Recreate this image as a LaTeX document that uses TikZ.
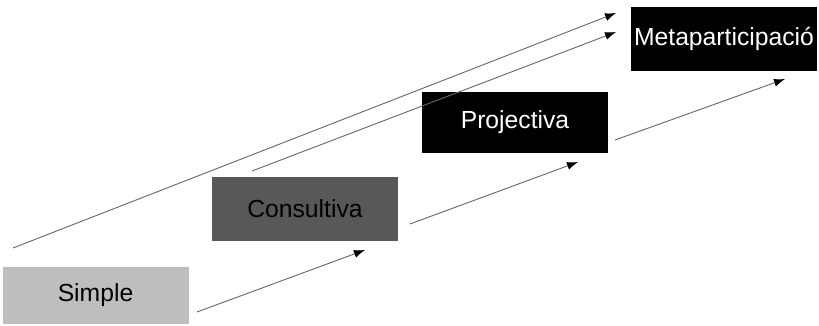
\documentclass[tikz,border=0pt]{standalone}
\usepackage{fontspec}
\setmainfont{Liberation Sans}
\usetikzlibrary{arrows.meta}
\definecolor{lightbox}{RGB}{190,190,190}
\definecolor{darkbox}{RGB}{88,88,88}
\begin{document}
\begin{tikzpicture}[x=1pt,y=-1pt,
    level/.style={minimum width=186pt,minimum height=62pt,inner sep=0pt,font=\fontsize{24.7}{28}\selectfont},
    stair/.style={draw=black!60,line width=0.9pt,-{Latex[length=11pt,width=8pt,color=black]}}]
    \useasboundingbox (0,0) rectangle (819,326);

    % the four levels
    \node[level,fill=lightbox,minimum height=57pt] (simple) at (95.5,295.5) {Simple};
    \node[level,fill=darkbox,minimum height=64pt] (consultiva) at (305,209) {Consultiva};
    \node[level,fill=black,text=white,minimum height=61pt] (projectiva) at (515,122.5) {Projectiva};
    \node[level,fill=black,text=white,minimum height=64pt] (meta) at (724,39) {Metaparticipació};

    % arrow ends
    \coordinate (S1) at (197,312);
    \coordinate (E1) at (365,250);
    \coordinate (S2) at (410,224);
    \coordinate (E2) at (578,162);
    \coordinate (S3) at (615,140);
    \coordinate (E3) at (785,79);
    \coordinate (S4) at (13,248);
    \coordinate (E4) at (616,13);
    \coordinate (S5) at (252,171);
    \coordinate (E5) at (616,32);

    \draw[stair] (S1) -- (E1); % simple -> consultiva
    \draw[stair] (S2) -- (E2); % consultiva -> projectiva
    \draw[stair] (S3) -- (E3); % projectiva -> meta
    \draw[stair] (S4) -- (E4); % long ones
    \draw[stair] (S5) -- (E5);
\end{tikzpicture}
\end{document}
